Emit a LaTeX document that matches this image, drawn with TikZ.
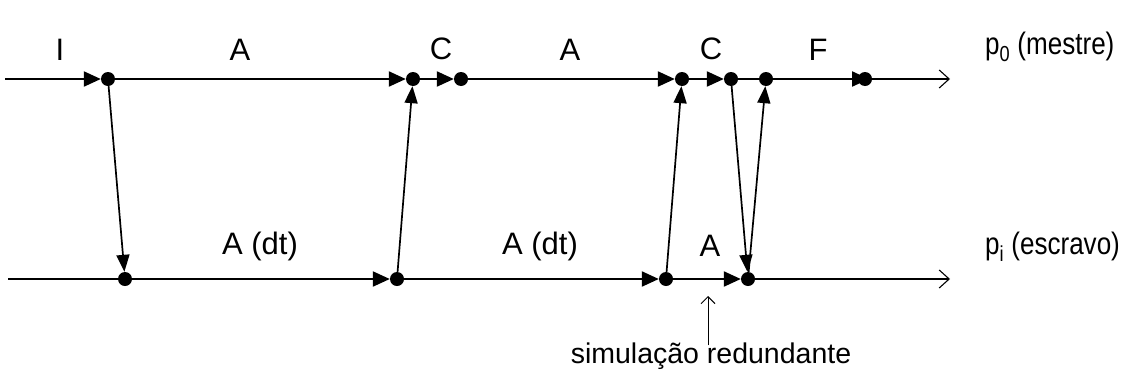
\documentclass[tikz,border=0pt]{standalone}
\usepackage{fontspec}
\setmainfont{Liberation Sans}
\usetikzlibrary{arrows.meta}
\begin{document}
\begin{tikzpicture}[x=1pt,y=-1pt,
  dot/.style={circle,fill=black,inner sep=0pt,minimum size=14pt},
  seg/.style={line width=2.2pt,-{Triangle[length=17pt,width=15pt]}},
  msg/.style={line width=1.7pt,-{Triangle[length=17pt,width=13pt]}},
  thinline/.style={line width=1.1pt},
  openend/.style={line width=1.1pt,-{Straight Barb[length=10pt,width=18pt,line width=1.1pt]}},
  lab/.style={font=\fontsize{31}{36}\selectfont,inner sep=0pt},
  plab/.style={font=\fontsize{31}{36}\selectfont,inner sep=0pt},
  note/.style={font=\fontsize{28.5}{32}\selectfont,inner sep=0pt}
]
\useasboundingbox (0,0) rectangle (1121,378);
% top line
\coordinate (t0) at (5,79);
\node[dot] (d1) at (108,79) {};
\node[dot] (d2) at (413,79) {};
\node[dot] (d3) at (461,79) {};
\node[dot] (d4) at (682,79) {};
\node[dot] (d5) at (731,79) {};
\node[dot] (d6) at (766,79) {};
\node[dot] (d7) at (865,79) {};
\coordinate (tend) at (950,79);
% bottom line
\coordinate (b0) at (8,279);
\node[dot] (b1) at (125,279) {};
\node[dot] (b2) at (397,279) {};
\node[dot] (b3) at (666,279) {};
\node[dot] (b4) at (748,279) {};
\coordinate (bend) at (950,279);

\draw[seg] (t0) -- (d1);
\draw[seg] (d1) -- (d2);
\draw[seg] (d2) -- (d3);
\draw[seg] (d3) -- (d4);
\draw[seg] (d4) -- (d5);
\draw[line width=1.5pt] (d5) -- (d6);
\draw[seg] (d6) -- ([xshift=4pt]d7.center);
\draw[openend] (d7) -- (tend);

\draw[thinline] (b0) -- (b1);
\draw[seg] (b1) -- (b2);
\draw[seg] (b2) -- (b3);
\draw[seg] (b3) -- (b4);
\draw[openend] (b4) -- (bend);

\draw[msg] (d1) -- (b1);
\draw[msg] (b2) -- (d2);
\draw[msg] (b3) -- (d4);
\draw[msg] (d5) -- (b4);
\draw[msg] (b4) -- (d6);

% labels
\node[lab] (lI) at (60,50) {I};
\node[lab] (lA1) at (240,50) {A};
\node[lab] (lC1) at (441,49) {C};
\node[lab] (lA2) at (570,50) {A};
\node[lab] (lC2) at (711,49) {C};
\node[lab] (lF) at (818,50) {F};
\node[plab,anchor=west] (p0) at (985,47) {\scalebox{0.84}[1]{p\textsubscript{0} (mestre)}};
\node[lab] (lAdt1) at (260,246) {A (dt)};
\node[lab] (lAdt2) at (540,246) {A (dt)};
\node[lab] (lA3) at (710,246) {A};
\node[plab,anchor=west] (pi) at (985,247) {\scalebox{0.84}[1]{p\textsubscript{i} (escravo)}};
\node[note] (sim) at (711,356) {simulação redundante};
\coordinate (up) at (708,296);
\draw[line width=1pt,-{Straight Barb[length=7pt,width=14pt,line width=1pt]}] ([yshift=-3pt]sim.north -| up) -- (up);
\end{tikzpicture}
\end{document}
